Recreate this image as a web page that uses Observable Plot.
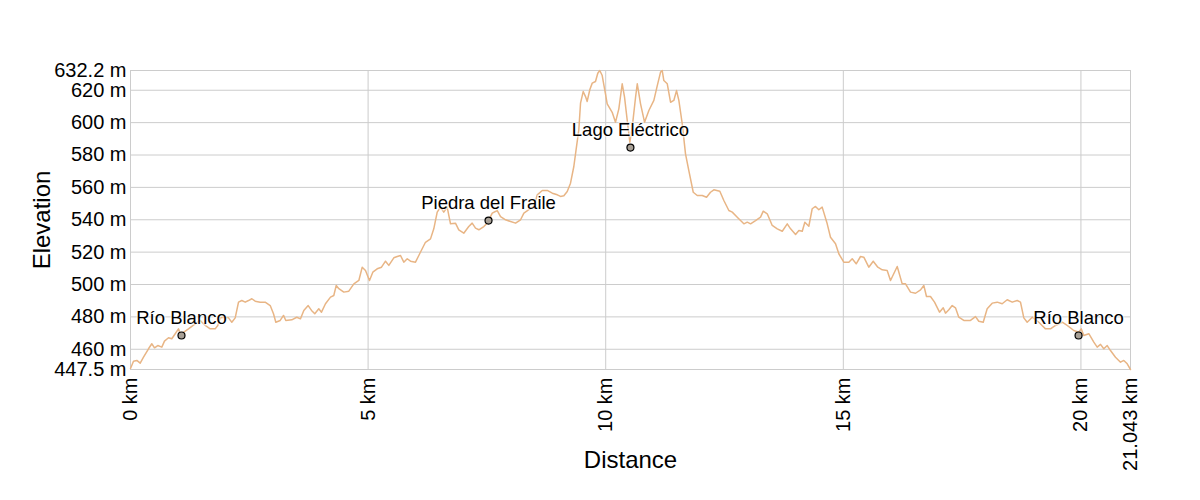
<!DOCTYPE html>
<html>
<head>
<meta charset="utf-8">
<script src="https://cdn.jsdelivr.net/npm/d3@7"></script>
<script src="https://cdn.jsdelivr.net/npm/@observablehq/plot@0.6"></script>
<style>
  html, body { margin: 0; padding: 0; background: #fff; }
</style>
</head>
<body>
<div id="chart"></div>
<script>
// Elevation profile: distance along the route (km) and elevation (m)
const distanceKm = [0,0.063,0.133,0.204,0.274,0.379,0.448,0.505,0.574,0.659,0.715,0.800,0.869,0.941,1.010,1.046,1.115,1.220,1.361,1.467,1.572,1.677,1.782,1.837,1.888,1.993,2.062,2.132,2.203,2.273,2.342,2.414,2.483,2.553,2.624,2.729,2.834,2.940,3.009,3.058,3.150,3.220,3.268,3.394,3.499,3.577,3.647,3.739,3.809,3.878,3.962,4.019,4.103,4.209,4.278,4.329,4.384,4.489,4.594,4.700,4.805,4.876,4.945,5.029,5.099,5.191,5.282,5.366,5.436,5.541,5.613,5.682,5.751,5.823,5.892,5.997,6.067,6.138,6.207,6.313,6.382,6.454,6.523,6.592,6.664,6.734,6.838,6.908,7.013,7.118,7.190,7.260,7.330,7.435,7.507,7.612,7.718,7.787,7.892,7.998,8.103,8.208,8.278,8.383,8.489,8.560,8.665,8.770,8.876,8.981,9.049,9.119,9.190,9.259,9.329,9.386,9.434,9.470,9.526,9.575,9.610,9.665,9.716,9.785,9.833,9.875,9.926,9.995,10.031,10.136,10.206,10.276,10.347,10.396,10.453,10.508,10.558,10.628,10.664,10.733,10.817,10.908,11.013,11.085,11.154,11.189,11.223,11.295,11.364,11.433,11.490,11.539,11.610,11.679,11.749,11.842,11.926,12.031,12.122,12.205,12.275,12.401,12.486,12.591,12.663,12.768,12.907,12.979,13.048,13.153,13.258,13.315,13.399,13.504,13.610,13.715,13.820,13.890,13.995,14.065,14.136,14.190,14.274,14.345,14.414,14.484,14.555,14.661,14.730,14.836,14.905,15.010,15.116,15.187,15.271,15.362,15.431,15.536,15.629,15.726,15.818,15.923,15.993,16.134,16.239,16.309,16.414,16.519,16.625,16.694,16.750,16.834,16.919,17.024,17.102,17.150,17.220,17.291,17.360,17.430,17.535,17.676,17.781,17.851,17.944,18.027,18.133,18.238,18.343,18.448,18.554,18.659,18.728,18.798,18.869,18.975,19.114,19.254,19.360,19.465,19.606,19.711,19.850,19.955,20.006,20.060,20.166,20.271,20.342,20.412,20.481,20.553,20.622,20.727,20.833,20.902,20.974,21.043];
const elevationM = [448.1,452.6,453.1,451.4,455.1,460.3,463.4,460.9,462.3,461.3,465.0,467.1,466.5,469.6,472.6,469.6,470.5,472.6,475.7,477.8,474.7,472.6,472.6,474.7,479.4,479.8,479.4,476.7,479.4,489.1,490.1,489.1,490.1,491.2,489.7,489.1,489.1,487.0,481.9,476.7,477.8,480.9,477.8,478.2,479.8,478.8,484.0,487.0,484.0,481.9,485.0,482.9,488.1,492.2,493.2,499.4,497.4,495.3,495.9,500.4,502.5,510.7,508.7,502.5,507.6,509.7,510.7,514.4,511.8,516.5,517.3,517.9,513.8,515.9,514.4,513.8,517.9,522.1,526.1,528.2,534.4,544.7,547.8,544.7,547.8,537.5,537.9,533.8,531.7,535.8,537.9,534.8,533.8,535.8,537.9,544.1,545.7,542.0,540.0,538.9,537.9,540.0,544.1,546.2,548.2,555.4,558.1,558.1,556.4,555.4,554.4,554.8,557.5,562.6,572.9,585.3,595.6,612.0,619.2,616.1,613.1,620.3,624.4,625.4,630.5,632.2,629.1,617.8,611.6,606.4,600.3,608.5,624.0,615.7,601.3,587.9,597.2,615.7,624.0,611.6,600.3,607.5,613.7,622.9,631.2,632.2,626.0,624.0,612.6,613.7,619.8,613.7,599.3,580.7,570.4,557.0,555.0,555.0,553.9,557.0,558.5,557.6,551.9,545.7,544.7,541.6,537.5,538.5,537.5,539.5,541.6,545.3,543.7,536.5,534.4,532.9,537.5,534.4,530.9,533.4,532.9,538.5,536.0,546.8,548.2,546.2,547.8,537.5,529.2,525.2,519.0,513.8,513.8,515.9,512.8,517.3,516.9,510.7,514.4,510.7,509.1,508.7,502.5,511.1,500.4,500.4,495.3,494.6,496.7,499.4,492.6,492.6,489.1,482.9,485.6,482.3,484.4,487.0,485.6,479.8,477.8,477.8,480.2,477.3,476.7,485.0,488.5,489.1,488.1,490.6,489.1,490.1,489.1,479.4,476.7,479.8,476.7,472.6,472.6,474.7,476.7,474.7,471.6,470.5,472.6,468.5,469.6,464.4,461.3,463.0,460.3,462.3,459.2,455.1,452.0,453.1,451.0,447.5];

// Named waypoints
const waypointNames = ["Río Blanco", "Piedra del Fraile", "Lago Eléctrico", "Río Blanco"];
const waypointKm = [1.073, 7.534, 10.52, 19.95];
const waypointM = [468.5, 539.5, 584.6, 468.5];

// Axis ticks
const xTicks = [0, 5, 10, 15, 20, 21.043];
const yTicks = [447.5, 460, 480, 500, 520, 540, 560, 580, 600, 620, 632.2];

const profile = distanceKm.map((d, i) => ({distance: d, elevation: elevationM[i]}));
const waypoints = waypointNames.map((n, i) => ({name: n, distance: waypointKm[i], elevation: waypointM[i]}));

const chart = Plot.plot({
  width: 1200,
  height: 500,
  marginLeft: 130,
  marginRight: 70,
  marginTop: 70,
  marginBottom: 131,
  style: {fontFamily: "'Liberation Sans', Arial, sans-serif", fontSize: "20px", color: "#000", background: "#fff"},
  x: {domain: [0, 21.043]},
  y: {domain: [447.5, 632.2]},
  marks: [
    Plot.gridX(xTicks, {stroke: "#cccccc", strokeOpacity: 1}),
    Plot.gridY(yTicks, {stroke: "#cccccc", strokeOpacity: 1}),
    Plot.axisX(xTicks, {tickFormat: d => `${d} km`, tickRotate: -90, tickSize: 0, tickPadding: 8, label: null, fontSize: 20}),
    Plot.axisY(yTicks, {tickFormat: d => `${d} m`, tickSize: 0, tickPadding: 4, label: null, fontSize: 20}),
    Plot.line(profile, {x: "distance", y: "elevation", stroke: "#e8b585", strokeWidth: 1.5}),
    Plot.dot(waypoints, {x: "distance", y: "elevation", r: 3.5, fill: "#a8a096", stroke: "#000", strokeWidth: 1.2}),
    Plot.text(waypoints, {x: "distance", y: "elevation", text: "name", dy: -17, fontSize: 18.5, fill: "#000", stroke: "#fff", strokeOpacity: 0.5, strokeWidth: 3}),
    Plot.text(["Elevation"], {text: d => d, frameAnchor: "left", textAnchor: "middle", lineAnchor: "middle", rotate: -90, dx: -88, fontSize: 24, fill: "#000"}),
    Plot.text(["Distance"], {text: d => d, frameAnchor: "bottom", textAnchor: "middle", lineAnchor: "middle", dy: 91, fontSize: 24, fill: "#000"})
  ]
});
document.getElementById("chart").appendChild(chart);
</script>
</body>
</html>
